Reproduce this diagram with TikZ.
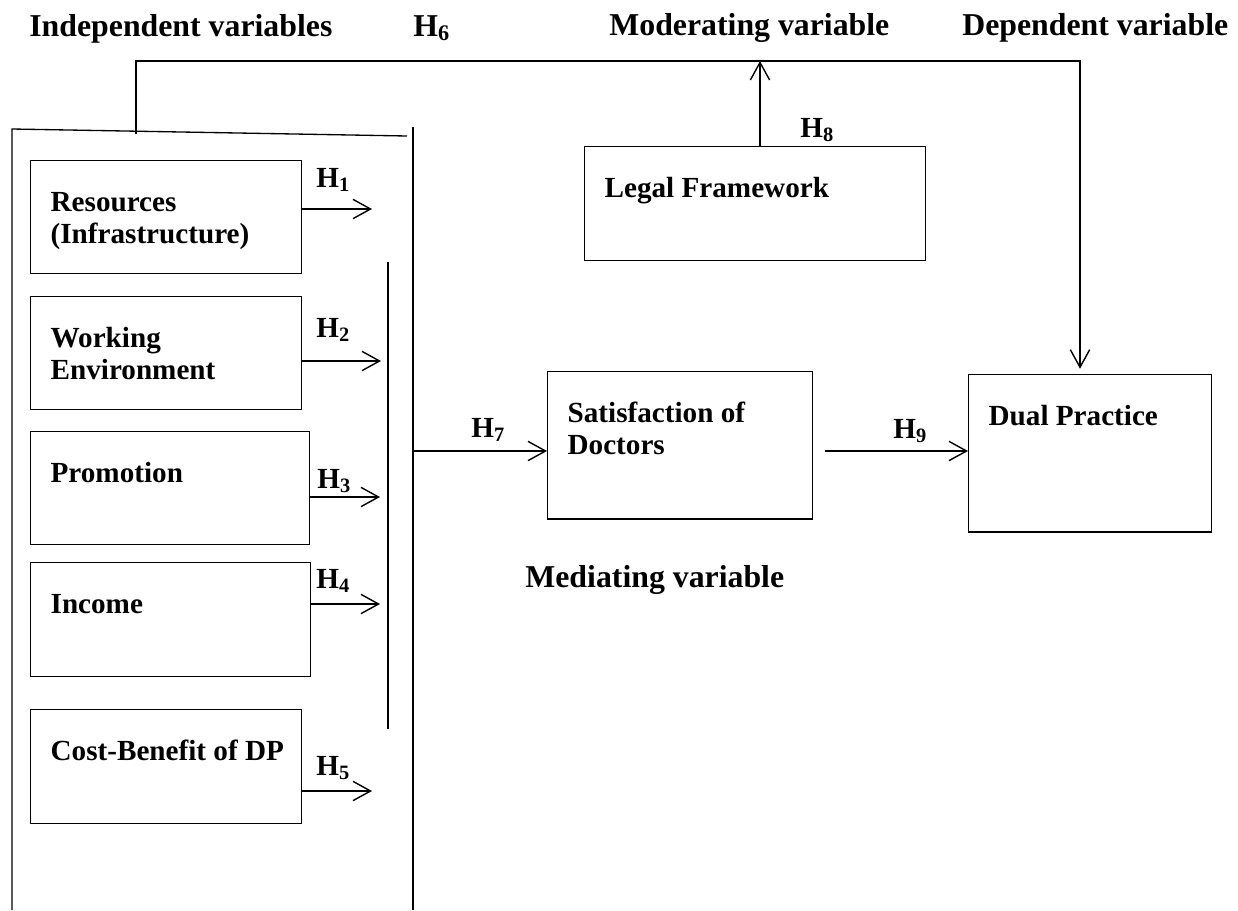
\documentclass[tikz,border=0pt]{standalone}
\usepackage{fontspec}
\setmainfont{Liberation Serif}
\usetikzlibrary{arrows.meta}

\newcommand{\headfont}{\fontsize{18.1pt}{21pt}\selectfont\bfseries}
\newcommand{\varfont}{\fontsize{16.6pt}{18.1pt}\selectfont\bfseries}

\tikzset{
  varbox/.style={draw, line width=0.75pt, anchor=north west, align=flush left,
    inner xsep=0.4cm, inner ysep=0pt, text height=28.9pt, font=\varfont},
  hyp/.style={line width=0.8pt, -{Straight Barb[length=10pt,width=11pt,line width=0.8pt]}},
  hyplabel/.style={anchor=base west, inner sep=0pt, font=\varfont},
  heading/.style={anchor=base west, inner sep=0pt, font=\headfont},
}

\begin{document}
\begin{tikzpicture}[x=0.02cm, y=-0.02cm]
    \useasboundingbox (0,0) rectangle (1238,910);

    % Headings
    \node[heading] (indep) at (29,36) {Independent variables};
    \node[heading] (h6) at (413,36) {H\textsubscript{6}};
    \node[heading] (moder) at (609,35) {Moderating variable};
    \node[heading] (dep) at (962,35) {Dependent variable};
    \node[heading] (medi) at (525,587) {Mediating variable};

    % Independent variables
    \node[varbox, text width=4.62cm, text depth=35.2pt] (res) at (30,160) {Resources\\(Infrastructure)};
    \node[varbox, text width=4.62cm, text depth=35.2pt] (env) at (30,296) {Working\\Environment};
    \node[varbox, text width=4.78cm, text depth=35.2pt] (prom) at (30,431) {Promotion};
    \node[varbox, text width=4.8cm, text depth=35.7pt] (inc) at (30,562) {Income};
    \node[varbox, text width=4.62cm, text depth=35.7pt] (cost) at (30,709) {\mbox{Cost-Benefit of DP}};

    % Moderating, mediating and dependent variables
    \node[varbox, text width=6.02cm, text depth=35.7pt] (legal) at (584,146) {Legal Framework};
    \node[varbox, text width=4.5cm, text depth=55pt] (sat) at (547,371) {Satisfaction of\\Doctors};
    \node[varbox, text width=4.06cm, text depth=60.7pt] (dual) at (968,374) {Dual Practice};

    % Frame round the independent variables
    \draw[line width=0.75pt] (12,910) -- (12,129) -- (407,136);
    \draw[line width=0.75pt] (413,127) -- (413,910);
    \draw[line width=0.75pt] (388,262) -- (388,729);

    % H1 to H5
    \coordinate (h1e) at (372,209);
    \coordinate (h2e) at (381,361);
    \coordinate (h3e) at (380,497);
    \coordinate (h4e) at (380,604);
    \coordinate (h5e) at (372,791);
    \draw[hyp] (res.east |- h1e) -- (h1e);
    \draw[hyp] (env.east |- h2e) -- (h2e);
    \draw[hyp] (prom.east |- h3e) -- (h3e);
    \draw[hyp] (inc.east |- h4e) -- (h4e);
    \draw[hyp] (cost.east |- h5e) -- (h5e);
    \node[hyplabel] (h1) at (316,187) {H\textsubscript{1}};
    \node[hyplabel] (h2) at (316,337) {H\textsubscript{2}};
    \node[hyplabel] (h3) at (317,488) {H\textsubscript{3}};
    \node[hyplabel] (h4) at (316,588) {H\textsubscript{4}};
    \node[hyplabel] (h5) at (316,775) {H\textsubscript{5}};

    % H6 from the frame to dual practice
    \coordinate (ivtop) at (136,134);
    \coordinate (dvtop) at (1080,61);
    \draw[hyp] (ivtop) |- (dvtop) -- ([yshift=3pt]dvtop |- dual.north);

    % H7 and H9
    \coordinate (h7s) at (413,451);
    \coordinate (h9s) at (825,451);
    \draw[hyp] (h7s) -- (h7s -| sat.west);
    \draw[hyp] (h9s) -- (h9s -| dual.west);
    \node[hyplabel] (h7) at (471,437) {H\textsubscript{7}};
    \node[hyplabel] (h9) at (893,438) {H\textsubscript{9}};

    % H8 from legal framework
    \coordinate (modtip) at (760,61);
    \draw[hyp] (modtip |- legal.north) -- (modtip);
    \node[hyplabel] (h8) at (800,137) {H\textsubscript{8}};

\end{tikzpicture}
\end{document}
